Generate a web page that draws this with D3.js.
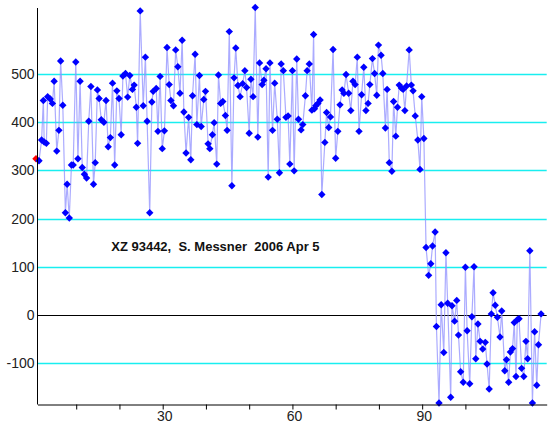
<!DOCTYPE html>
<html>
<head>
<meta charset="utf-8">
<script src="https://cdn.jsdelivr.net/npm/d3@7"></script>
<style>
  html, body { margin: 0; padding: 0; background: #fff; }
  svg { display: block; }
  .tick text { font-family: "Liberation Sans Narrow", "Arial Narrow", "Liberation Sans", Arial, sans-serif; font-size: 14px; fill: #222; }
</style>
</head>
<body>
<svg id="chart" width="552" height="424"></svg>
<script>
// Observation times (x) and measured values (y); the first point is the flagged one
const timeValues = [
  0.7,
  1.4, 2.0, 2.4, 2.6, 3.1, 3.4, 4.0, 4.5, 4.9, 5.5,
  6.0, 6.4, 6.9, 7.5, 7.9, 8.4, 8.9, 9.3, 9.9, 10.4,
  10.9, 11.4, 11.9, 12.4, 12.9, 13.4, 14.0, 14.4, 14.9, 15.3,
  15.8, 16.4, 16.9, 17.4, 17.9, 18.4, 18.9, 19.4, 19.9, 20.4,
  20.8, 21.4, 21.9, 22.4, 23.0, 23.4, 23.9, 24.2, 24.8, 25.5,
  26.0, 26.4, 27.0, 27.5, 27.8, 28.5, 28.9, 29.4, 29.9, 30.4,
  31.0, 31.5, 31.9, 32.5, 33.0, 33.5, 34.0, 34.5, 34.9, 35.4,
  36.0, 36.5, 36.9, 37.5, 37.9, 38.5, 38.9, 39.5, 39.9, 40.5,
  40.9, 41.5, 41.9, 42.5, 42.9, 43.4, 43.9, 44.5, 44.9, 45.4,
  46.0, 46.5, 46.9, 47.4, 47.9, 48.5, 49.0, 49.4, 50.0, 50.4,
  50.9, 51.4, 52.0, 52.4, 53.0, 53.4, 53.9, 54.4, 54.8, 55.4,
  55.9, 56.5, 57.0, 57.4, 57.9, 58.5, 59.0, 59.4, 60.0, 60.4,
  61.0, 61.4, 62.0, 62.4, 63.0, 63.4, 63.9, 64.5, 64.9, 65.1,
  65.4, 65.9, 66.4, 66.8, 67.5, 67.9, 68.4, 68.8, 69.4, 70.0,
  70.5, 71.0, 71.5, 71.9, 72.4, 73.0, 73.5, 74.0, 74.5, 75.0,
  75.4, 76.0, 76.5, 77.0, 77.5, 77.9, 78.5, 79.0, 79.5, 79.9,
  80.5, 80.9, 81.5, 81.9, 82.4, 83.0, 83.4, 83.9, 84.3, 84.7,
  85.2, 85.6, 86.0, 86.4, 87.0, 87.5, 87.9, 88.4, 89.0, 89.5,
  89.9, 90.4, 90.9, 91.5, 92.0, 92.4, 93.0, 93.3, 93.9, 94.4,
  95.0, 95.5, 95.9, 96.6, 96.9, 97.5, 98.0, 98.4, 98.9, 99.5,
  100.0, 100.4, 101.0, 101.5, 102.0, 102.4, 102.9, 103.4, 104.0, 104.6,
  105.0, 105.5, 106.0, 106.4, 106.9, 107.4, 108.0, 108.4, 109.1, 109.5,
  110.0, 110.4, 110.9, 111.3, 111.7, 112.0, 112.4, 113.0, 113.5, 114.0,
  114.4, 114.9, 115.5, 116.0, 116.5, 116.9, 117.5
];
const signalValues = [
  324,
  320, 363, 445, 359, 356, 453, 448, 439, 485, 340,
  383, 527, 435, 212, 271, 201, 311, 311, 525, 324,
  485, 306, 292, 284, 402, 474, 271, 316, 467, 449,
  405, 400, 445, 349, 368, 481, 311, 465, 449, 374,
  496, 501, 452, 497, 468, 477, 431, 356, 631, 434,
  535, 402, 212, 442, 464, 470, 381, 495, 345, 382,
  555, 478, 445, 434, 550, 515, 460, 570, 421, 336,
  410, 322, 455, 541, 395, 497, 391, 447, 464, 355,
  345, 374, 399, 313, 498, 439, 443, 414, 383, 588,
  268, 492, 554, 476, 453, 480, 507, 472, 377, 489,
  453, 638, 369, 523, 478, 487, 511, 286, 523, 383,
  481, 406, 295, 521, 507, 410, 413, 313, 507, 299,
  531, 406, 384, 395, 455, 507, 521, 425, 582, 428,
  434, 439, 446, 250, 358, 420, 389, 411, 551, 325,
  381, 436, 467, 460, 499, 460, 424, 485, 478, 535,
  381, 457, 514, 424, 439, 478, 532, 501, 456, 560,
  539, 501, 388, 468, 316, 298, 443, 371, 431, 477,
  471, 468, 424, 475, 550, 477, 465, 413, 363, 302,
  453, 366, 140, 82, 106, 143, 172, -24, -183, 21,
  -78, 129, 24, -171, 19, -13, 30, -42, -118, -140,
  99, -33, -143, -4, 100, -91, -19, -55, -71, -57,
  -102, -154, 2, 46, 20, -5, -46, 8, -116, -93,
  -140, -77, -70, -16, -128, -10, -8, -111, -128, -55,
  -91, 133, -183, -35, -146, -62, 2
];
const flaggedIndex = 0;

const yTickValues = [-100, 0, 100, 200, 300, 400, 500];
const xTickValues = [10, 20, 30, 40, 50, 60, 70, 80, 90, 100, 110];
const xTickLabels = [30, 60, 90];
const noteText = "XZ 93442,  S. Messner  2006 Apr 5";

const points = timeValues.map((t, i) => ({ t, v: signalValues[i], i }));

const svg = d3.select("#chart");
const plotLeft = 37.5, plotRight = 546.7, plotTop = 8, plotBottom = 404;

const x = d3.scaleLinear().domain([1.05, 118.8]).range([plotLeft, plotRight]);
const y = d3.scaleLinear().domain([-185, 637]).range([plotBottom, plotTop]);

// Horizontal reference lines (zero in black, the rest cyan)
svg.append("g")
  .selectAll("line")
  .data(yTickValues)
  .join("line")
  .attr("x1", plotLeft)
  .attr("x2", plotRight)
  .attr("y1", d => Math.round(y(d)) + 0.5)
  .attr("y2", d => Math.round(y(d)) + 0.5)
  .attr("stroke", d => d === 0 ? "#000" : "#19eef0")
  .attr("stroke-width", d => d === 0 ? 1 : 1.6);

// Connecting line
svg.append("path")
  .datum(points)
  .attr("fill", "none")
  .attr("stroke", "#8f8fff")
  .attr("stroke-opacity", 0.75)
  .attr("stroke-width", 1.2)
  .attr("d", d3.line().x(d => x(d.t)).y(d => y(d.v)));

// Diamond markers
const diamond = "M0,-3.7L3.7,0L0,3.7L-3.7,0Z";
svg.append("g")
  .selectAll("path")
  .data(points)
  .join("path")
  .attr("d", diamond)
  .attr("transform", d => `translate(${x(d.t)},${y(d.v)})`)
  .attr("fill", d => d.i === flaggedIndex ? "#ff0000" : "#0000ff");

// Left axis: labels only, no tick marks; plain hyphen for negatives
const yAxis = svg.append("g")
  .attr("transform", `translate(${plotLeft},0)`)
  .call(d3.axisLeft(y).tickValues(yTickValues).tickSize(0).tickPadding(3).tickFormat(d => String(d)));
yAxis.select(".domain").attr("stroke", "#000").attr("d", `M0,${plotTop}V${plotBottom + 0.5}`);

// Bottom axis: ticks every 10, labels every 30
const xAxis = svg.append("g")
  .attr("transform", `translate(0,${plotBottom + 0.5})`)
  .call(d3.axisBottom(x).tickValues(xTickValues).tickSize(5).tickSizeOuter(0).tickPadding(2)
    .tickFormat(d => xTickLabels.includes(d) ? String(d) : ""));
xAxis.select(".domain").attr("stroke", "#000");
xAxis.selectAll(".tick line").attr("stroke", "#000");
xAxis.selectAll(".tick text").attr("dx", 1.5);

// Annotation
svg.append("text")
  .attr("x", x(18.1))
  .attr("y", y(133))
  .attr("font-family", "'Liberation Sans', Arial, sans-serif")
  .attr("font-size", 13)
  .attr("font-weight", "bold")
  .attr("fill", "#111")
  .style("white-space", "pre")
  .text(noteText);
</script>
</body>
</html>
